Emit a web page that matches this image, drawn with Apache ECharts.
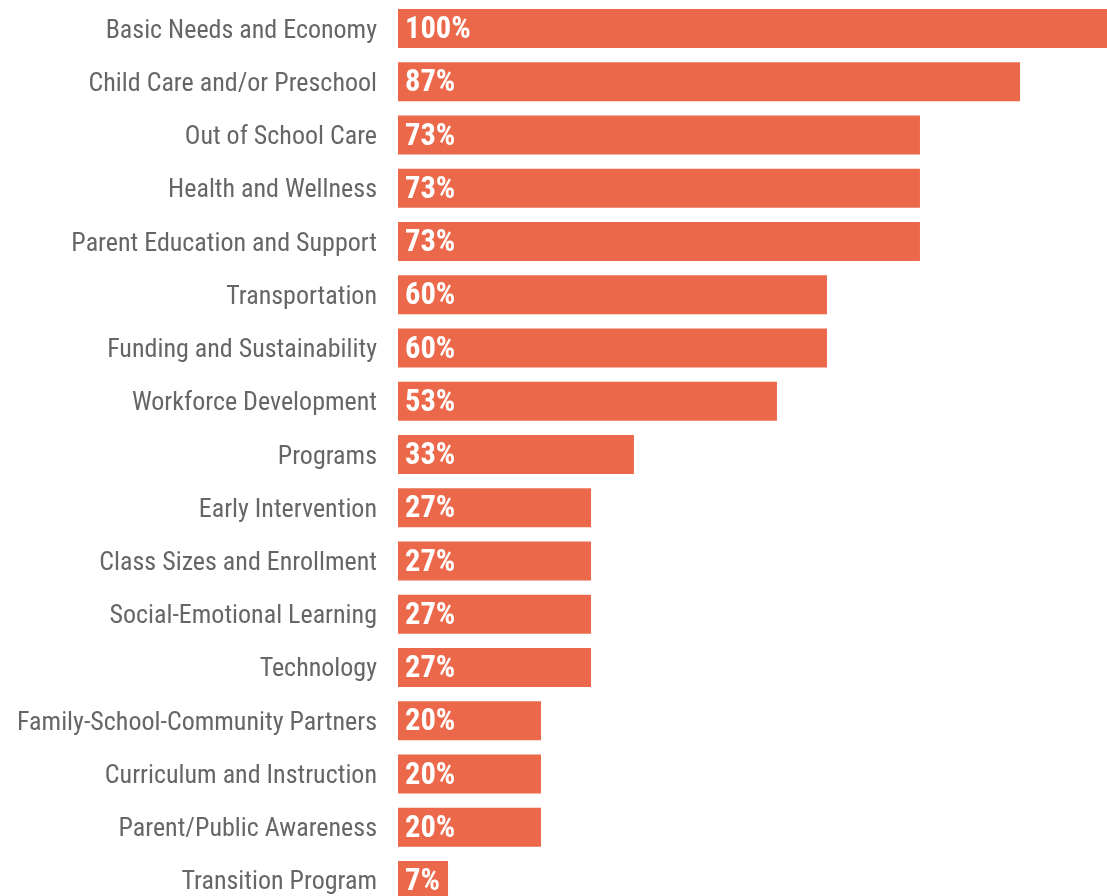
<!DOCTYPE html>
<html>
<head>
<meta charset="utf-8">
<script src="https://cdn.jsdelivr.net/npm/echarts@6/dist/echarts.min.js"></script>
<style>
  html, body { margin: 0; padding: 0; background: #fff; }
  #chart { width: 1107px; height: 896px; }
</style>
</head>
<body>
<div id="chart"></div>
<script>
// Share of respondents naming each topic (percent), listed top to bottom
const categories = [
  'Basic Needs and Economy',
  'Child Care and/or Preschool',
  'Out of School Care',
  'Health and Wellness',
  'Parent Education and Support',
  'Transportation',
  'Funding and Sustainability',
  'Workforce Development',
  'Programs',
  'Early Intervention',
  'Class Sizes and Enrollment',
  'Social-Emotional Learning',
  'Technology',
  'Family-School-Community Partners',
  'Curriculum and Instruction',
  'Parent/Public Awareness',
  'Transition Program'
];
const values = [100, 87, 73, 73, 73, 60, 60, 53, 33, 27, 27, 27, 27, 20, 20, 20, 7];

const FONT = '"Roboto Condensed", "Liberation Sans", Arial, sans-serif';

const chart = echarts.init(document.getElementById('chart'), null, { renderer: 'canvas' });
chart.setOption({
  animation: false,
  grid: {
    left: 398, right: -6, top: 2, bottom: -11,
    containLabel: false,
    outerBoundsMode: 'none'
  },
  xAxis: {
    type: 'value',
    min: 0,
    max: 100,
    show: false
  },
  yAxis: {
    type: 'category',
    data: categories,
    inverse: true,
    axisLine: { show: false },
    axisTick: { show: false },
    splitLine: { show: false },
    axisLabel: {
      color: '#666666',
      fontFamily: FONT,
      fontSize: 26,
      margin: 21,
      // nudge the labels a little below the band centre line
      verticalAlign: 'top',
      lineHeight: 5
    }
  },
  series: [{
    type: 'bar',
    data: values,
    barWidth: 39,
    itemStyle: { color: '#EC684A' },
    label: {
      show: true,
      position: 'insideLeft',
      distance: 7,
      offset: [0, 2],
      color: '#ffffff',
      fontFamily: FONT,
      fontWeight: 'bold',
      fontSize: 30.5,
      formatter: p => p.value + '%'
    }
  }]
});
</script>
</body>
</html>
